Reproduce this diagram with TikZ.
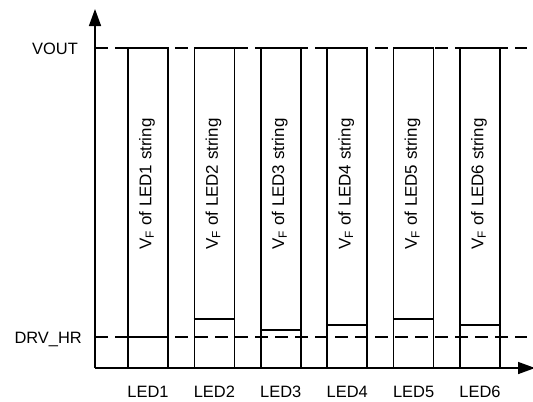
\documentclass[tikz,border=0pt]{standalone}
\usepackage{fontspec}
\setmainfont{Liberation Sans}
\usepackage{tikz}
\usetikzlibrary{arrows.meta,positioning,calc}

\tikzset{
 lbl/.style={font=\fontsize{16.5}{20}\selectfont,inner sep=0pt},
 vflbl/.style={font=\fontsize{17}{20}\selectfont,inner sep=0pt,rotate=90},
 axisline/.style={line width=1.5bp,-{Triangle[length=17bp,width=12bp]}},
 levelline/.style={line width=1.3bp,dash pattern=on 13bp off 7bp},
 barbox/.style={draw,line width=1.6bp,minimum width=40bp,minimum height=320bp,inner sep=0pt}
}

\begin{document}
\begin{tikzpicture}[x=1bp,y=-1bp]
\useasboundingbox (0,0) rectangle (533,401);
\coordinate (o) at (95,368);
\coordinate (ytip) at (95,9);
\coordinate (xtip) at (535,368);
\coordinate (voutL) at (95,48);
\coordinate (voutR) at (527,48);
\coordinate (drvL) at (95,337);
\coordinate (drvR) at (527,337);
% supply and headroom levels
\draw[levelline] (voutL) -- (voutR);
\draw[levelline] (drvL) -- (drvR);
\node[lbl,anchor=base east] (vout) at (78,54) {VOUT};
\node[lbl,anchor=base east] (drvhr) at (82,343) {DRV\_HR};
% one bar per string
\foreach \i/\h in {1/337,2/319,3/330,4/325,5/319,6/325}{
 \pgfmathsetmacro\xc{148+66.4*(\i-1)}
 \node[barbox] (bar\i) at (\xc,208) {};
 \draw[line width=1.6bp] (bar\i.west |- 0,\h) -- (bar\i.east |- 0,\h);
 \node[vflbl] (vf\i) at (\xc-1,184) {V\textsubscript{F} of LED\i\ string};
 \node[lbl,anchor=base] (led\i) at (\xc,397) {LED\i};}
% axes
\draw[axisline] (o) -- (ytip);
\draw[axisline] (o) -- (xtip);
\end{tikzpicture}
\end{document}
